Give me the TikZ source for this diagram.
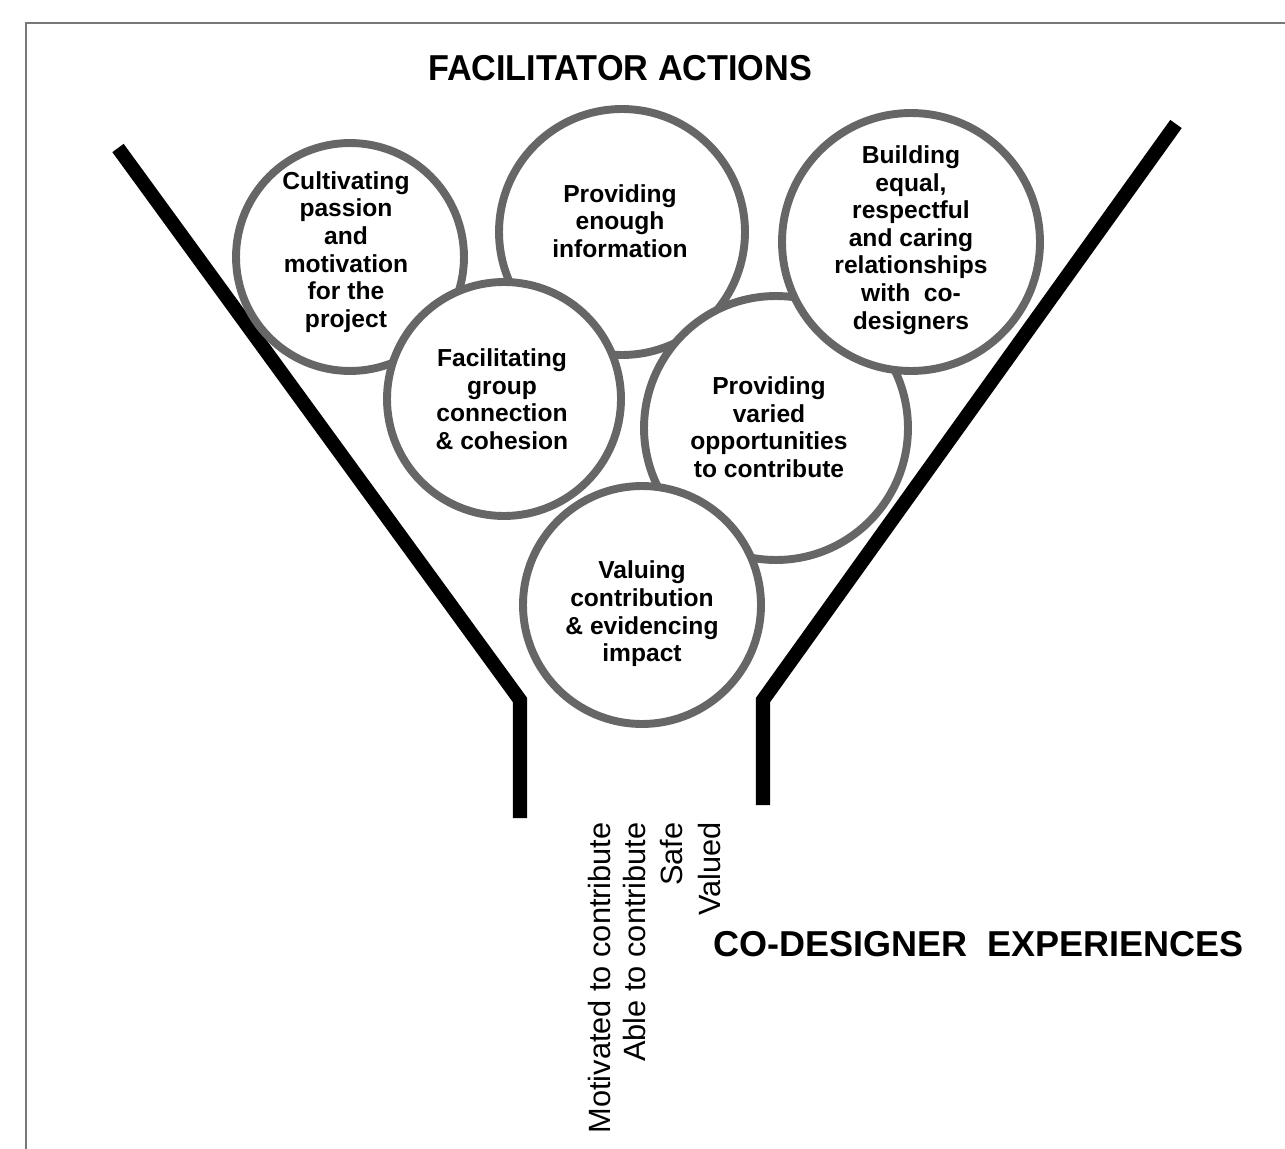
\documentclass[tikz,border=0pt]{standalone}
\usepackage{fontspec}
\setmainfont{Liberation Sans}
\usetikzlibrary{positioning}

\definecolor{ringgray}{RGB}{102,102,102}
\definecolor{framegray}{RGB}{120,120,120}

\tikzset{
  bubble/.style={circle,draw=ringgray,line width=4.5pt,fill=white,inner sep=0pt},
  bubbletext/.style={align=center,inner sep=0pt,font=\bfseries\fontsize{14}{15.7}\selectfont},
  outcome/.style={rotate=90,anchor=base east,inner sep=0pt,font=\fontsize{17.5}{20}\selectfont},
  funnel/.style={line width=8pt,black},
  heading/.style={inner sep=0pt,font=\bfseries\fontsize{20.5}{24}\selectfont}
}

\begin{document}
\begin{tikzpicture}[x=0.02cm,y=-0.02cm]
\useasboundingbox (0,0) rectangle (1285,1149);

% frame
\draw[framegray,line width=1.7pt] (26,1149) -- (26,23) -- (1285,23);

\node[heading,xscale=0.95] (actions) at (620,68) {FACILITATOR ACTIONS};

% funnel
\coordinate (Ltop) at (118,148);
\coordinate (Lbend) at (520,700);
\coordinate (Lend) at (520,818);
\coordinate (Rtop) at (1176,124);
\coordinate (Rbend) at (763,700);
\coordinate (Rend) at (763,805);
\draw[funnel] (Ltop) -- (Lbend) -- (Lend);
\draw[funnel] (Rtop) -- (Rbend) -- (Rend);

% bubbles
\node[bubble,minimum size=4.56cm] (cultivating) at (350,257) {};
\node[bubbletext] (cultivatingtext) at (346,252) {Cultivating\\passion\\and\\motivation\\for the\\project};

\node[bubble,minimum size=4.92cm] (information) at (622,232) {};
\node[bubbletext] (informationtext) at (620,221) {Providing\\enough\\information};

\node[bubble,minimum size=4.68cm] (connection) at (504,399) {};
\node[bubbletext] (connectiontext) at (502,399) {Facilitating\\group\\connection\\\& cohesion};

\node[bubble,minimum size=5.28cm] (opportunities) at (776,428) {};
\node[bubbletext] (opportunitiestext) at (769,427) {Providing\\varied\\opportunities\\to contribute};

\node[bubble,minimum size=5.16cm] (relationships) at (911,242) {};
\node[bubbletext] (relationshipstext) at (911,240) {Building\\equal,\\respectful\\and caring\\relationships\\with\ \ co-\\designers};

\node[bubble,minimum size=4.76cm] (impact) at (642,605) {};
\node[bubbletext] (impacttext) at (642,614) {Valuing\\contribution\\\& evidencing\\impact};

% outcomes
\node[outcome] (motivated) at (610,822) {Motivated to contribute};
\node[outcome] (able) at (645,822) {Able to contribute};
\node[outcome] (safe) at (682,822) {Safe};
\node[outcome] (valued) at (720,822) {Valued};

\node[heading,anchor=west] (experiences) at (713,944) {CO-DESIGNER\ \ EXPERIENCES};
\end{tikzpicture}
\end{document}
